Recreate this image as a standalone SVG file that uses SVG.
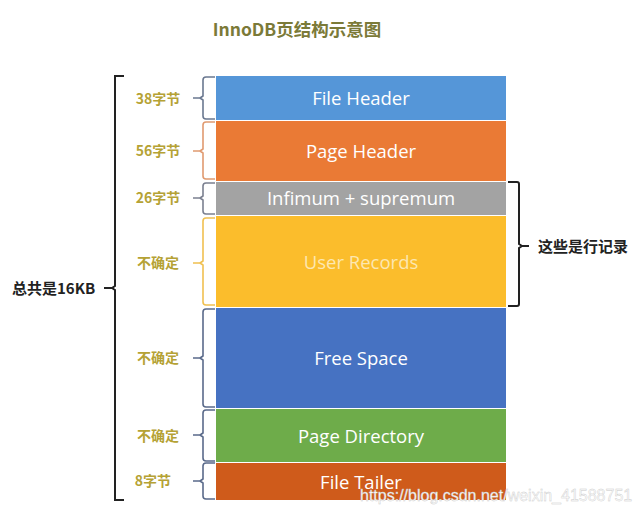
<svg xmlns="http://www.w3.org/2000/svg" width="640" height="512" viewBox="0 0 640 512">
<style>
.blk text{font-family:"Open Sans","Noto Sans","Noto Sans CJK SC",sans-serif;font-size:18.5px;fill:#fff;text-anchor:middle}
.lbl{font-family:"Noto Sans CJK SC",sans-serif;font-size:14px;font-weight:bold;fill:#b5a235;text-anchor:middle}
.br{fill:none;stroke-width:1.6;stroke-linejoin:round}
.big{fill:none;stroke:#222;stroke-width:2}
.blab{font-family:"Noto Sans CJK SC",sans-serif;font-size:15px;font-weight:bold;fill:#222}
</style>
<rect width="640" height="512" fill="#fff"/>
<text x="297" y="36" font-family="Noto Sans CJK SC,sans-serif" font-size="17.5" font-weight="bold" fill="#7b7a38" text-anchor="middle">InnoDB页结构示意图</text>

<g id="file-header" class="blk"><rect x="216" y="76" width="290" height="44" fill="#5596d8"/><text x="361" y="105">File Header</text></g>
<g id="page-header" class="blk"><rect x="216" y="121" width="290" height="60" fill="#ea7a35"/><text x="361" y="158">Page Header</text></g>
<g id="infimum" class="blk"><rect x="216" y="182" width="290" height="33" fill="#a3a3a3"/><text x="361" y="205">Infimum + supremum</text></g>
<g id="user-records" class="blk"><rect x="216" y="216" width="290" height="91" fill="#fbbd2c"/><text x="361" y="269" style="fill:#fde7b0">User Records</text></g>
<g id="free-space" class="blk"><rect x="216" y="308" width="290" height="100" fill="#4672c2"/><text x="361" y="365">Free Space</text></g>
<g id="page-directory" class="blk"><rect x="216" y="409" width="290" height="53" fill="#6eac4a"/><text x="361" y="443">Page Directory</text></g>
<g id="file-tailer" class="blk"><rect x="216" y="463" width="290" height="37" fill="#cf5b1b"/><text x="361" y="489">File Tailer</text></g>

<g id="connectors">
<path class="br" stroke="#6a7890" d="M215,77 H206 Q203,77 203,80 V96 L200,98 L203,100 V116 Q203,119 206,119 H215 M200,98 H193"/>
<path class="br" stroke="#e09a70" d="M215,122 H206 Q203,122 203,125 V149 L200,151 L203,153 V176 Q203,179 206,179 H215 M200,151 H193"/>
<path class="br" stroke="#7b8090" d="M215,183 H206 Q203,183 203,186 V196 L200,198 L203,200 V211 Q203,214 206,214 H215 M200,198 H193"/>
<path class="br" stroke="#f0c050" d="M215,218 H206 Q203,218 203,221 V261 L200,263 L203,265 V302 Q203,305 206,305 H215 M200,263 H193"/>
<path class="br" stroke="#5a6a8a" d="M215,309 H206 Q203,309 203,312 V356 L200,358 L203,360 V404 Q203,407 206,407 H215 M200,358 H193"/>
<path class="br" stroke="#5a6a8a" d="M215,410 H206 Q203,410 203,413 V433 L200,435 L203,437 V458 Q203,461 206,461 H215 M200,435 H193"/>
<path class="br" stroke="#5a6a8a" d="M215,463 H206 Q203,463 203,466 V479 L200,481 L203,483 V496 Q203,499 206,499 H215 M200,481 H193"/>
<path class="big" d="M124,76 H115 V286 L112,288 L115,290 V500 H124 M112,288 H104"/>
<path class="big" d="M508,182 H517 Q519,182 519,184 V244 L522,246 L519,248 V304 Q519,306 517,306 H508 M522,246 H529"/>
</g>

<text class="lbl" x="158" y="104">38字节</text>
<text class="lbl" x="158" y="156">56字节</text>
<text class="lbl" x="158" y="203">26字节</text>
<text class="lbl" x="158" y="268">不确定</text>
<text class="lbl" x="158" y="363">不确定</text>
<text class="lbl" x="158" y="441">不确定</text>
<text class="lbl" x="153" y="486">8字节</text>
<text class="blab" x="12" y="294">总共是16KB</text>
<text class="blab" x="538" y="252">这些是行记录</text>
<text x="360" y="501" font-family="Liberation Sans,Arial,sans-serif" font-size="16" fill="#fff" stroke="#c8c8c8" stroke-width="0.4" text-anchor="start">https://blog.csdn.net/weixin_41588751</text>
</svg>
